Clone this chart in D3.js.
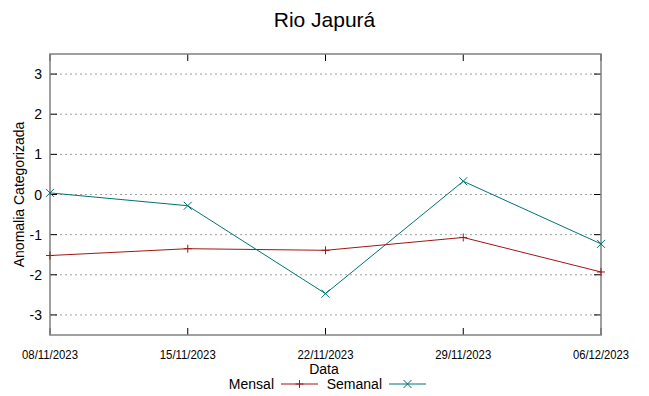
<!DOCTYPE html>
<html>
<head>
<meta charset="utf-8">
<script src="https://cdn.jsdelivr.net/npm/d3@7"></script>
<style>
  body { margin: 0; background: #fff; }
  svg text { font-family: "Liberation Sans", Arial, sans-serif; fill: #000; }
</style>
</head>
<body>
<div id="chart"></div>
<script>
// Chart data
const dates = ["2023-11-08", "2023-11-15", "2023-11-22", "2023-11-29", "2023-12-06"];
const mensal = [-1.52, -1.35, -1.39, -1.07, -1.93];
const semanal = [0.04, -0.28, -2.47, 0.33, -1.23];
const yTicks = [-3, -2, -1, 0, 1, 2, 3];
const seriesNames = ["Mensal", "Semanal"];

const width = 649, height = 396;
const margin = { top: 54, right: 48, bottom: 61, left: 50 };
const colors = { Mensal: "#a31515", Semanal: "#007373" };

const svg = d3.select("#chart").append("svg")
  .attr("width", width).attr("height", height);

const parse = d3.timeParse("%Y-%m-%d");
const xDates = dates.map(parse);

const x = d3.scaleTime()
  .domain(d3.extent(xDates))
  .range([margin.left, width - margin.right]);
const y = d3.scaleLinear()
  .domain([-3.5, 3.5])
  .range([height - margin.bottom, margin.top]);

const x0 = margin.left, x1 = width - margin.right;
const y0 = height - margin.bottom, y1 = margin.top;

// ── Grid ──
svg.append("g").selectAll("line")
  .data(yTicks)
  .join("line")
  .attr("x1", x0).attr("x2", x1)
  .attr("y1", d => y(d)).attr("y2", d => y(d))
  .attr("stroke", "#a0a0a0")
  .attr("stroke-width", 1)
  .attr("stroke-dasharray", "2 3");

// ── Tick marks (inward, gnuplot style) ──
const tickG = svg.append("g").attr("stroke", "#000").attr("stroke-width", 1);
yTicks.forEach(t => {
  tickG.append("line").attr("x1", x0).attr("x2", x0 + 7).attr("y1", y(t)).attr("y2", y(t));
  tickG.append("line").attr("x1", x1).attr("x2", x1 - 7).attr("y1", y(t)).attr("y2", y(t));
});
xDates.forEach(d => {
  tickG.append("line").attr("x1", x(d)).attr("x2", x(d)).attr("y1", y0).attr("y2", y0 - 7);
  tickG.append("line").attr("x1", x(d)).attr("x2", x(d)).attr("y1", y1).attr("y2", y1 + 7);
});

// ── Border ──
svg.append("rect")
  .attr("x", x0).attr("y", y1)
  .attr("width", x1 - x0).attr("height", y0 - y1)
  .attr("fill", "none")
  .attr("stroke", "#808080")
  .attr("stroke-width", 1.5);

// ── Tick labels ──
svg.append("g").selectAll("text")
  .data(yTicks)
  .join("text")
  .attr("x", x0 - 8)
  .attr("y", d => y(d) + 5)
  .attr("text-anchor", "end")
  .attr("font-size", "14px")
  .text(d => d);

const fmt = d3.timeFormat("%d/%m/%Y");
svg.append("g").selectAll("text")
  .data(xDates)
  .join("text")
  .attr("x", d => x(d))
  .attr("y", y0 + 24)
  .attr("text-anchor", "middle")
  .attr("font-size", "12px")
  .attr("textLength", 56)
  .attr("lengthAdjust", "spacingAndGlyphs")
  .text(d => fmt(d));

// ── Titles ──
svg.append("text")
  .attr("x", width / 2).attr("y", 27)
  .attr("text-anchor", "middle")
  .attr("font-size", "21px")
  .text("Rio Japurá");

svg.append("text")
  .attr("transform", `translate(24,${(y0 + y1) / 2}) rotate(-90)`)
  .attr("text-anchor", "middle")
  .attr("font-size", "14px")
  .text("Anomalia Categorizada");

svg.append("text")
  .attr("x", 324).attr("y", 374)
  .attr("text-anchor", "middle")
  .attr("font-size", "14px")
  .text("Data");

// ── Series ──
const line = d3.line().x(d => x(d.date)).y(d => y(d.value));
const series = [
  { name: "Mensal", values: mensal },
  { name: "Semanal", values: semanal },
].map(s => ({ name: s.name, points: s.values.map((v, i) => ({ date: xDates[i], value: v })) }));

function marker(g, name, cx, cy) {
  const s = 4;
  if (name === "Mensal") {
    g.append("path").attr("d", `M${cx - s},${cy}H${cx + s}M${cx},${cy - s}V${cy + s}`);
  } else {
    g.append("path").attr("d", `M${cx - s},${cy - s}L${cx + s},${cy + s}M${cx - s},${cy + s}L${cx + s},${cy - s}`);
  }
}

series.forEach(s => {
  svg.append("path")
    .datum(s.points)
    .attr("d", line)
    .attr("fill", "none")
    .attr("stroke", colors[s.name])
    .attr("stroke-width", 1);
  const g = svg.append("g").attr("stroke", colors[s.name]).attr("stroke-width", 1);
  s.points.forEach(p => marker(g, s.name, x(p.date), y(p.value)));
});

// ── Legend ──
const legY = 384;
const legendPos = { Mensal: { textEnd: 274, lineStart: 281 }, Semanal: { textEnd: 382, lineStart: 389 } };
seriesNames.forEach(name => {
  const p = legendPos[name];
  svg.append("text")
    .attr("x", p.textEnd).attr("y", legY + 5)
    .attr("text-anchor", "end")
    .attr("font-size", "14px")
    .text(name);
  svg.append("line")
    .attr("x1", p.lineStart).attr("x2", p.lineStart + 37)
    .attr("y1", legY).attr("y2", legY)
    .attr("stroke", colors[name]).attr("stroke-width", 1);
  const g = svg.append("g").attr("stroke", colors[name]).attr("stroke-width", 1);
  marker(g, name, p.lineStart + 18.5, legY);
});
</script>
</body>
</html>
